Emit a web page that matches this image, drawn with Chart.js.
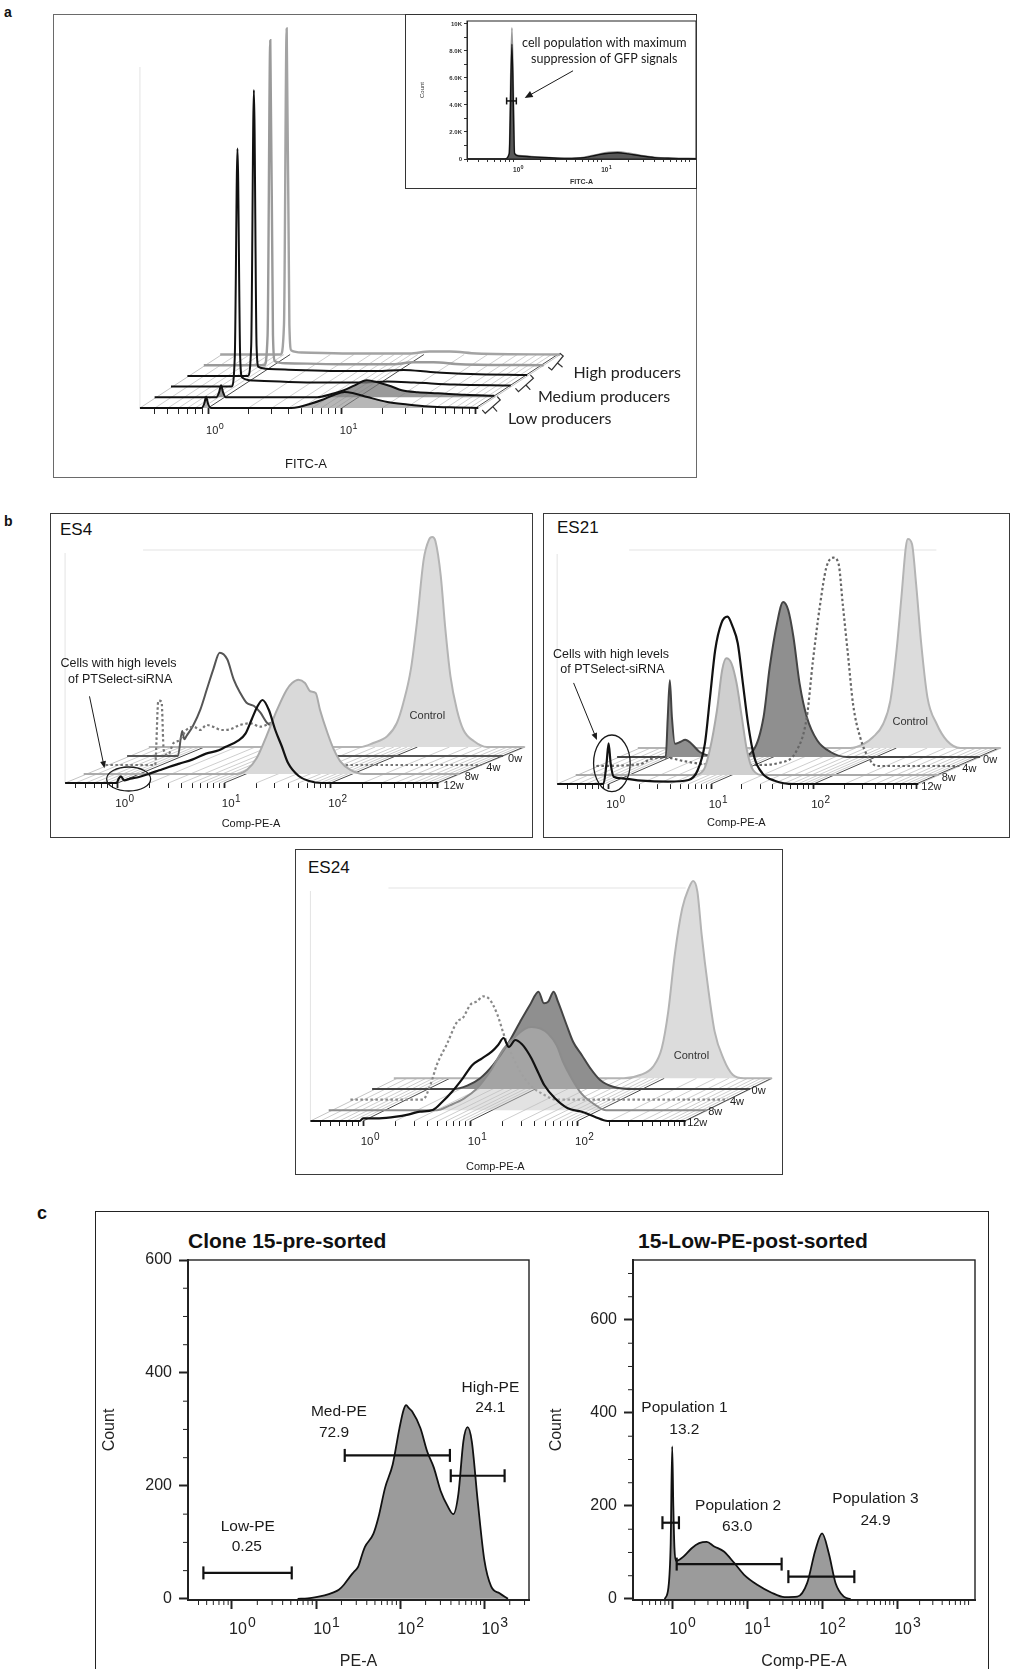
<!DOCTYPE html>
<html>
<head>
<meta charset="utf-8">
<title>Flow cytometry histograms</title>
<script src="https://cdn.jsdelivr.net/npm/chart.js@4.4.1/dist/chart.umd.min.js"></script>
<style>
  html, body { margin: 0; padding: 0; background: #fff; }
  body { position: relative; width: 1011px; height: 1669px; overflow: hidden;
         font-family: "Liberation Sans", Arial, sans-serif; color: #111; }
  .box { position: absolute; box-sizing: border-box; border: 1.3px solid #3a3a3a; }
  canvas { position: absolute; }
  .tag { position: absolute; line-height: 1; white-space: nowrap; }
</style>
</head>
<body>
<div class="tag" style="left:4px;top:5px;font-weight:bold;font-size:14px">a</div>
<div class="tag" style="left:4px;top:514px;font-weight:bold;font-size:14px">b</div>
<div class="tag" style="left:37px;top:1204px;font-weight:bold;font-size:18px">c</div>

<div class="box" style="left:53px;top:14px;width:644px;height:464px;border-color:#6a6a6a"></div>
<canvas id="waterA"></canvas>
<div class="box" style="left:405px;top:14px;width:292px;height:175px;background:#fff;border-color:#333"></div>
<canvas id="inset"></canvas>

<div class="box" style="left:50px;top:513px;width:483px;height:325px"></div>
<div class="box" style="left:543px;top:513px;width:467px;height:325px"></div>
<div class="box" style="left:295px;top:849px;width:488px;height:326px"></div>
<div class="tag" style="left:60px;top:521px;font-size:17px">ES4</div>
<div class="tag" style="left:557px;top:519px;font-size:17px">ES21</div>
<div class="tag" style="left:308px;top:859px;font-size:17px">ES24</div>
<canvas id="es4"></canvas>
<canvas id="es21"></canvas>
<canvas id="es24"></canvas>

<div class="box" style="left:95px;top:1211px;width:894px;height:480px;border-color:#222;border-width:1.5px"></div>
<div class="tag" style="left:188px;top:1230px;font-weight:bold;font-size:21px">Clone 15-pre-sorted</div>
<div class="tag" style="left:638px;top:1230px;font-weight:bold;font-size:21px">15-Low-PE-post-sorted</div>
<canvas id="preSorted"></canvas>
<canvas id="postSorted"></canvas>

<script>
// all x values are log10 of the fluorescence channel, y values are counts

// --- panel a: FITC-A waterfall, front (low producers) to back (high producers) ---
const aLowFront  = [[-0.51,0],[-0.05,0],[-0.03,4],[-0.015,11],[0,4],[0.02,0],[0.62,0],[0.68,1],[0.76,4],[0.85,8],[0.94,13],[1.02,16],[1.08,15],[1.19,11],[1.34,6],[1.49,3.5],[1.65,1.5],[1.85,0.5],[2.02,0]];
const aLowBack   = [[-0.51,0],[-0.05,0],[-0.03,5],[-0.015,12],[0,5],[0.02,0],[0.7,0],[0.8,3],[0.9,7],[0.98,12],[1.07,17],[1.15,15],[1.25,11],[1.33,7],[1.45,5],[1.6,4],[1.8,2.5],[2.02,1.5]];
const aMedFront  = [[-0.51,0],[-0.06,0],[-0.035,30],[-0.015,238],[0.005,30],[0.02,9],[0.1,6],[0.3,5],[0.6,4],[0.9,4],[1.1,5],[1.3,4],[1.6,2],[2.02,1]];
const aMedBack   = [[-0.51,0],[-0.06,0],[-0.035,30],[-0.015,286],[0.005,30],[0.02,9],[0.1,7],[0.3,6],[0.6,5],[0.9,5],[1.1,6],[1.3,4],[1.6,2],[2.02,1]];
const aHighFront = [[-0.51,0],[-0.06,0],[-0.035,30],[-0.015,325],[0.005,30],[0.02,4],[0.1,2],[0.5,1],[0.9,1],[1.05,3],[1.2,3],[1.4,1],[2.02,0]];
const aHighBack  = [[-0.51,0],[-0.06,0],[-0.035,30],[-0.015,326],[0.005,30],[0.02,4],[0.1,2],[0.5,1],[0.9,1],[1.05,3],[1.2,3],[1.4,1],[2.02,0]];
const aGroups = ['Low producers', 'Medium producers', 'High producers'];

// --- panel a inset ---
const insetGray  = [[-0.53,0],[-0.1,0],[-0.05,400],[-0.02,9700],[0.01,400],[0.06,250],[0.2,180],[0.4,100],[0.6,50],[0.8,120],[0.95,330],[1.08,480],[1.18,520],[1.3,430],[1.45,250],[1.6,120],[1.8,60],[2.07,30]];
const insetBlack = [[-0.53,0],[-0.1,0],[-0.05,400],[-0.02,8500],[0.01,400],[0.06,220],[0.2,160],[0.4,90],[0.6,40],[0.8,100],[0.95,300],[1.08,430],[1.18,460],[1.3,380],[1.45,220],[1.6,100],[1.8,50],[2.07,20]];
const insetGate  = [[-0.08,4300],[0.03,4300]];
const insetYLabels = ['0','2.0K','4.0K','6.0K','8.0K','10K'];

// --- panel b: Comp-PE-A waterfalls, weeks front to back then control ---
const weeks = ['12w', '8w', '4w', '0w'];
const es4W12 = [[-0.494,0],[-0.06,0],[-0.01,0],[0.01,4.4],[0.03,6.7],[0.06,2.7],[0.12,4.4],[0.2,6],[0.3,9.4],[0.39,12.7],[0.48,16],[0.58,19.4],[0.7,23.4],[0.83,29.4],[0.95,32.7],[1.01,36],[1.135,42.7],[1.2,49.4],[1.26,64],[1.31,76],[1.36,83],[1.42,73],[1.48,53],[1.54,37],[1.6,20],[1.7,7],[1.79,2.3],[1.92,0],[3.013,0]];
const es4W8  = [[-0.494,0],[0.93,0],[1.03,4.3],[1.12,16],[1.21,37.7],[1.31,64.3],[1.4,84.3],[1.45,91],[1.51,94.3],[1.57,91],[1.62,82.7],[1.67,81],[1.71,64.3],[1.78,41],[1.84,24.3],[1.9,12.7],[1.99,4.3],[2.12,0],[3.013,0]];
const es4W4  = [[-0.494,0],[-0.03,0],[0,64.3],[0.03,63.3],[0.05,15],[0.09,10],[0.14,21.7],[0.2,25],[0.26,35],[0.33,38.3],[0.39,35],[0.45,40],[0.51,38.3],[0.59,35],[0.67,35.7],[0.76,40],[0.86,41.7],[0.95,38.3],[1.04,41.7],[1.14,46.7],[1.26,51.7],[1.35,48.3],[1.42,41.7],[1.48,28.3],[1.54,15],[1.6,6.7],[1.7,0],[3.013,0]];
const es4W0  = [[-0.494,0],[-0.02,0],[0.02,25],[0.04,16.7],[0.06,20],[0.12,30],[0.19,46.7],[0.25,66.7],[0.31,86.7],[0.37,103.3],[0.44,96.7],[0.5,76.7],[0.56,63.3],[0.62,53.3],[0.69,50],[0.75,43.3],[0.81,33.3],[0.87,30],[0.97,26.7],[1.03,25],[1.09,20],[1.18,13.3],[1.28,6.7],[1.37,1.7],[1.46,0],[3.013,0]];
const es4Ctrl = [[-0.494,0],[1.48,0],[1.6,4],[1.73,10.7],[1.82,24],[1.88,44],[1.95,77.3],[2.01,127.3],[2.07,187.3],[2.12,207.3],[2.15,210],[2.18,205.7],[2.23,170.7],[2.27,120.7],[2.32,70.7],[2.38,37.3],[2.44,17.3],[2.54,5.7],[2.66,0],[3.013,0]];

const es21W12 = [[-0.502,0],[-0.05,0],[-0.02,20.7],[0,40.7],[0.02,20.7],[0.05,7.3],[0.13,5.7],[0.32,3.3],[0.58,2.3],[0.78,4],[0.87,14],[0.94,40.7],[0.99,87.3],[1.04,134],[1.1,160.7],[1.16,167.3],[1.21,157.3],[1.26,140.7],[1.31,100.7],[1.36,60.7],[1.42,27.3],[1.5,10.7],[1.62,3.3],[1.81,0],[3.022,0]];
const es21W8  = [[-0.502,0],[0.64,0],[0.74,5],[0.8,25],[0.87,65],[0.92,105],[0.96,116.7],[1.01,111.7],[1.06,91.7],[1.11,58.3],[1.16,25],[1.22,5],[1.32,0],[3.022,0]];
const es21W4  = [[-0.502,0],[-0.08,1.7],[0.02,6.7],[0.18,8.3],[0.34,5],[0.57,1.7],[1.05,1],[1.28,3.3],[1.44,15],[1.54,48.3],[1.6,105],[1.67,161.7],[1.73,198.3],[1.8,208.3],[1.85,201.7],[1.89,161.7],[1.94,111.7],[1.99,61.7],[2.06,28.3],[2.14,8.3],[2.22,0],[3.022,0]];
const es21W0  = [[-0.502,0],[-0.03,0],[-0.01,40],[0.01,76.7],[0.03,40],[0.06,13.3],[0.11,15],[0.16,17.3],[0.22,13.3],[0.3,5],[0.43,1],[0.69,0.7],[0.82,6.7],[0.92,40],[0.98,90],[1.05,133.3],[1.11,155],[1.16,146.7],[1.21,120],[1.27,73.3],[1.34,40],[1.44,16.7],[1.57,5],[1.73,0],[3.022,0]];
const es21Ctrl = [[-0.502,0],[1.56,0],[1.69,4],[1.78,10.7],[1.88,24],[1.95,47.3],[2.01,97.3],[2.06,154],[2.1,200.7],[2.12,209],[2.16,204],[2.2,164],[2.25,104],[2.31,50.7],[2.4,24],[2.5,7.3],[2.63,0],[3.022,0]];

const es24W12 = [[-0.491,0],[-0.03,0],[0,2.7],[0.15,2.7],[0.31,4.3],[0.43,6.7],[0.53,9.3],[0.65,11],[0.74,19.3],[0.83,29.3],[0.93,42.7],[1.02,56],[1.11,62.7],[1.2,69.3],[1.26,76],[1.31,83],[1.36,74],[1.42,81],[1.48,77],[1.53,70],[1.57,62.7],[1.63,49.3],[1.69,36],[1.79,22.7],[1.91,12.7],[2.04,9.3],[2.16,4.3],[2.28,0],[3.009,0]];
const es24W8  = [[-0.491,0],[0.51,0],[0.63,5],[0.76,11.7],[0.88,21.7],[1,38.3],[1.13,61.7],[1.25,75],[1.33,81.7],[1.39,83.3],[1.47,81.7],[1.54,76.7],[1.62,65],[1.68,48.3],[1.76,31.7],[1.85,16.7],[1.96,6.7],[2.08,0],[3.009,0]];
const es24W4  = [[-0.491,0],[0.18,0],[0.25,15],[0.31,35],[0.4,55],[0.5,78.3],[0.55,81.7],[0.62,95],[0.68,98.3],[0.74,103.3],[0.8,100],[0.87,85],[0.93,65],[0.99,48.3],[1.08,28.3],[1.17,15],[1.3,5],[1.42,0],[3.009,0]];
const es24W0  = [[-0.491,0],[0.26,0],[0.39,3.3],[0.51,10.7],[0.63,24],[0.76,44],[0.88,67.3],[0.97,84],[1.05,97.3],[1.1,85.7],[1.14,87.3],[1.19,97.3],[1.23,87.3],[1.31,64],[1.37,47.3],[1.45,34],[1.53,20.7],[1.62,9],[1.74,2.3],[1.93,0],[3.009,0]];
const es24Ctrl = [[-0.491,0],[1.64,0],[1.79,3.3],[1.91,11.7],[1.99,30],[2.05,66.7],[2.11,123.3],[2.18,170],[2.24,190],[2.28,197.3],[2.32,186.7],[2.36,143.3],[2.42,90],[2.48,46.7],[2.56,20],[2.65,3.3],[2.75,0],[3.009,0]];

// --- panel c: sorting histograms and gates [from, to, height] ---
const preSorted  = [[0.78,0],[0.9,1],[1,3],[1.1,6],[1.2,11],[1.27,16],[1.33,25],[1.4,39],[1.45,48],[1.5,57],[1.55,80],[1.58,92],[1.68,115],[1.74,144],[1.82,197],[1.91,238],[1.99,302],[2.04,335],[2.07,343],[2.1,338],[2.14,332],[2.24,302],[2.32,261],[2.4,232],[2.48,191],[2.56,165],[2.63,150],[2.69,185],[2.75,279],[2.8,304],[2.85,279],[2.92,174],[3,68],[3.08,22],[3.18,10],[3.28,0]];
const preGates   = [[-0.34,0.71,46],[1.34,2.59,254],[2.6,3.24,218]];
const preNames   = ['Low-PE', 'Med-PE', 'High-PE'];
const prePct     = ['0.25', '72.9', '24.1'];
const postSorted = [[-0.1,0],[-0.05,25],[-0.02,120],[0,328],[0.015,200],[0.03,110],[0.05,82],[0.1,85],[0.15,91],[0.26,109],[0.36,120],[0.46,123],[0.56,113],[0.69,102],[0.83,77],[0.96,52],[1.14,30],[1.32,14],[1.5,4],[1.67,5],[1.8,34],[1.91,105],[2,141],[2.09,98],[2.18,34],[2.29,5],[2.38,0]];
const postGates  = [[-0.13,0.09,164],[0.06,1.46,75],[1.55,2.43,48]];
const postNames  = ['Population 1', 'Population 2', 'Population 3'];
const postPct    = ['13.2', '63.0', '24.9'];
const countTicks = [0, 200, 400, 600];

const FONT = "'Liberation Sans', Arial, sans-serif";
const CAL = "Lato, 'Open Sans', sans-serif";
Chart.defaults.font.family = FONT;
Chart.defaults.color = '#222';

const pts = arr => arr.map(([l, c]) => ({ x: 10 ** l, y: c }));

function logTicks(lo, hi) {
  const out = [];
  for (let d = Math.floor(lo); d <= Math.ceil(hi); d++) {
    for (let m = 1; m <= 9; m++) {
      const l = d + Math.log10(m);
      if (l >= lo - 1e-9 && l <= hi + 1e-9) out.push({ value: m * 10 ** d, major: m === 1 });
    }
  }
  return out;
}
function place(canvas, b) {
  canvas.width = b[2]; canvas.height = b[3];
  canvas.style.left = b[0] + 'px'; canvas.style.top = b[1] + 'px';
}

// decade labels "10" with a raised exponent, placed on the x-axis ticks
const powersPlugin = {
  id: 'powers',
  afterDraw(chart, args, o) {
    if (!o.axis) return;
    const s = chart.scales[o.axis], ctx = chart.ctx;
    const y = chart.chartArea.bottom + o.dy;
    ctx.save();
    ctx.fillStyle = o.color || '#222';
    ctx.textBaseline = 'alphabetic';
    s.ticks.forEach(t => {
      const l = Math.log10(t.value), d = Math.round(l);
      if (Math.abs(l - d) > 1e-6 || !o.shown.includes(d)) return;
      const x = s.getPixelForValue(t.value) + o.dx;
      ctx.font = (o.weight || '') + ' ' + o.size + 'px ' + FONT;
      const w = ctx.measureText('10').width;
      ctx.textAlign = 'center';
      ctx.fillText('10', x, y);
      ctx.font = (o.weight || '') + ' ' + o.exp + 'px ' + FONT;
      ctx.textAlign = 'left';
      ctx.fillText(String(d), x + w / 2 + o.gap, y - o.raise);
    });
    ctx.restore();
  }
};

// slanted floor of the waterfall plots
const floorPlugin = {
  id: 'floor',
  beforeDatasetsDraw(chart, args, o) {
    if (!o.n) return;
    const ctx = chart.ctx, xs = chart.scales.x0, ys = chart.scales.y0;
    const yb = ys.getPixelForValue(0), sx = (o.n - 1) * o.dx, sy = (o.n - 1) * o.dy;
    const xl = xs.getPixelForValue(10 ** o.lo), xr = xs.getPixelForValue(10 ** o.hi);
    ctx.save();
    ctx.strokeStyle = '#e3e3e3'; ctx.lineWidth = 1;
    if (o.wall) {
      ctx.beginPath();
      ctx.moveTo(xl, yb); ctx.lineTo(xl, chart.chartArea.top + o.wall.v);
      if (o.wall.h != null) {
        ctx.moveTo(xl + o.wall.from, chart.chartArea.top + o.wall.h);
        ctx.lineTo(xr + o.wall.to, chart.chartArea.top + o.wall.h);
      }
      ctx.stroke();
    }
    const slant = (x, col, w) => {
      ctx.strokeStyle = col; ctx.lineWidth = w;
      ctx.beginPath(); ctx.moveTo(x, yb); ctx.lineTo(x + sx, yb - sy); ctx.stroke();
    };
    slant(xl, '#c4c4c4', 1);
    slant(xr, '#c4c4c4', 1);
    xs.ticks.forEach(t => slant(xs.getPixelForValue(t.value), t.major ? '#4a4a4a' : '#c8c8c8', t.major ? 1 : 0.9));
    ctx.restore();
  }
};

// texts, arrows, ellipses and brackets placed in data units
const notesPlugin = {
  id: 'notes',
  afterDatasetsDraw(chart, args, o) {
    if (!o.items) return;
    const ctx = chart.ctx;
    const pt = (p, k) => {
      const xs = chart.scales[k === undefined ? o.xKey : 'x' + k];
      const ys = chart.scales[k === undefined ? o.yKey : 'y' + k];
      return [xs.getPixelForValue(10 ** p[0]), ys.getPixelForValue(p[1])];
    };
    ctx.save();
    ctx.lineCap = 'round';
    o.items.forEach(it => {
      ctx.fillStyle = ctx.strokeStyle = it.color || '#1a1a1a';
      ctx.lineWidth = it.width || 1.2;
      if (it.kind === 'text') {
        const [x, y] = pt(it.at, it.layer);
        const n = it.nudge || [0, 0];
        ctx.font = it.font;
        ctx.textAlign = it.align || 'center';
        ctx.textBaseline = it.base || 'alphabetic';
        ctx.fillText(it.text, x + n[0], y + n[1]);
      } else if (it.kind === 'arrow') {
        const [x1, y1] = pt(it.from), [x2, y2] = pt(it.to);
        const a = Math.atan2(y2 - y1, x2 - x1), L = it.head || 7, W = L * 0.42;
        ctx.beginPath(); ctx.moveTo(x1, y1);
        ctx.lineTo(x2 - L * 0.8 * Math.cos(a), y2 - L * 0.8 * Math.sin(a)); ctx.stroke();
        ctx.beginPath(); ctx.moveTo(x2, y2);
        ctx.lineTo(x2 - L * Math.cos(a) + W * Math.sin(a), y2 - L * Math.sin(a) - W * Math.cos(a));
        ctx.lineTo(x2 - L * Math.cos(a) - W * Math.sin(a), y2 - L * Math.sin(a) + W * Math.cos(a));
        ctx.closePath(); ctx.fill();
      } else if (it.kind === 'ellipse') {
        const [x, y] = pt(it.at);
        ctx.beginPath(); ctx.ellipse(x, y, it.rx, it.ry, 0, 0, Math.PI * 2); ctx.stroke();
      } else if (it.kind === 'bracket') {
        const [x1, y1] = pt(it.from), [x2, y2] = pt(it.to);
        const len = Math.hypot(x2 - x1, y2 - y1), ux = (x2 - x1) / len, uy = (y2 - y1) / len;
        const nx = -uy, ny = ux, mx = (x1 + x2) / 2, my = (y1 + y2) / 2;
        ctx.beginPath();
        ctx.moveTo(x1 - nx * 4, y1 - ny * 4); ctx.lineTo(x1, y1); ctx.lineTo(x2, y2); ctx.lineTo(x2 - nx * 4, y2 - ny * 4);
        ctx.moveTo(mx, my); ctx.lineTo(mx + nx * 6, my + ny * 6);
        ctx.stroke();
      }
    });
    ctx.restore();
  }
};

// short minor tick marks and plot frame for the 2D histograms
const minorPlugin = {
  id: 'minor',
  afterDraw(chart, args, o) {
    if (!o.x) return;
    const ctx = chart.ctx, a = chart.chartArea, xs = chart.scales.x, ys = chart.scales.y;
    ctx.save();
    ctx.strokeStyle = '#222'; ctx.lineWidth = 1;
    ctx.beginPath();
    o.x.forEach(v => { const p = xs.getPixelForValue(v); ctx.moveTo(p, a.bottom); ctx.lineTo(p, a.bottom + o.len); });
    o.y.forEach(v => { const p = ys.getPixelForValue(v); ctx.moveTo(a.left - o.len, p); ctx.lineTo(a.left, p); });
    ctx.stroke();
    ctx.lineWidth = o.frame || 1.4;
    ctx.strokeRect(a.left, a.top, a.right - a.left, a.bottom - a.top);
    ctx.restore();
  }
};
Chart.register(floorPlugin, notesPlugin, minorPlugin, powersPlugin);

const quiet = { legend: { display: false }, tooltip: { enabled: false } };

// ---------- waterfall builder (one scale pair per depth layer) ----------
function waterfall(id, g) {
  const canvas = document.getElementById(id);
  place(canvas, g.box);
  const n = g.layers.length;
  const H = g.bottom - g.top;
  const shift = g.dx / g.ppd;
  const hiAll = g.hi + (n - 1) * shift;
  const right = g.left + (hiAll - g.lo) * g.ppd;
  const scales = {};
  g.layers.forEach((ly, k) => {
    scales['x' + k] = { type: 'logarithmic', position: 'bottom', display: k === 0,
                        min: 10 ** (g.lo - k * shift), max: 10 ** (hiAll - k * shift) };
    scales['y' + k] = { type: 'linear', display: false, min: -k * g.dy, max: H - k * g.dy };
  });
  Object.assign(scales.x0, {
    border: { display: false },
    grid: { drawOnChartArea: false, drawTicks: true, tickLength: g.tickLen, tickColor: '#222',
            tickWidth: c => (c.tick && c.tick.major ? 1.8 : 1) },
    ticks: { display: false, autoSkip: false, maxRotation: 0 },
    afterBuildTicks: s => { s.ticks = logTicks(g.lo, g.hi); },
    afterFit: s => { s.height = g.box[1] + g.box[3] - g.bottom; }
  });
  const datasets = g.layers.map((ly, k) => ({
    data: pts(ly.data), xAxisID: 'x' + k, yAxisID: 'y' + k,
    borderColor: ly.color, borderWidth: ly.width || 2, borderDash: ly.dash || [],
    backgroundColor: ly.fill || 'rgba(0,0,0,0)', fill: ly.fill ? 'origin' : false,
    pointRadius: 0, cubicInterpolationMode: 'monotone', clip: false
  }));
  const items = g.notes.slice();
  (g.depth || []).forEach((w, k) => items.push({ kind: 'text', text: w, layer: k, at: [g.hi, 0],
    nudge: g.depthNudge, align: 'left', font: '11px ' + FONT, color: '#222' }));
  new Chart(canvas, {
    type: 'line',
    data: { datasets },
    options: {
      responsive: false, animation: false, events: [],
      layout: { autoPadding: false,
                padding: { left: g.left - g.box[0], top: g.top - g.box[1], right: g.box[0] + g.box[2] - right, bottom: 0 } },
      scales,
      plugins: Object.assign({}, quiet, {
        floor: { n, dx: g.dx, dy: g.dy, lo: g.lo, hi: g.hi, wall: g.wall },
        notes: { xKey: 'x0', yKey: 'y0', items },
        powers: Object.assign({ axis: 'x0', shown: g.labelled }, g.powers)
      })
    }
  });
}

// ---------- panel a ----------
const blk = '#111', gry = '#9a9a9a';
waterfall('waterA', {
  box: [54, 16, 642, 460], left: 138.2, top: 20, bottom: 408,
  lo: -0.51, hi: 2.02, ppd: 134.3, dx: 16.4, dy: 10.7,
  tickLen: 6, labelled: [0, 1],
  powers: { dx: 4, dy: 26, size: 11, exp: 9, raise: 5, gap: 0.5 },
  wall: { v: 47, h: null },
  layers: [
    { data: aLowFront, color: blk, fill: 'rgba(135,135,135,0.6)' },
    { data: aLowBack, color: blk, fill: 'rgba(120,120,120,0.75)' },
    { data: aMedFront, color: blk },
    { data: aMedBack, color: blk },
    { data: aHighFront, color: gry, width: 2.4 },
    { data: aHighBack, color: '#a3a3a3', width: 2.4 }
  ],
  notes: [
    { kind: 'text', text: 'FITC-A', at: [0.732, -60.3], font: '13px ' + FONT },
    { kind: 'text', text: aGroups[2], at: [3.133, 29.7], font: '16px ' + CAL, color: '#222' },
    { kind: 'text', text: aGroups[1], at: [2.96, 6.3], font: '16px ' + CAL, color: '#222' },
    { kind: 'text', text: aGroups[0], at: [2.629, -16.3], font: '16px ' + CAL, color: '#222' },
    { kind: 'bracket', from: [2.569, 38], to: [2.655, 52], color: '#333' },
    { kind: 'bracket', from: [2.32, 16.3], to: [2.432, 29.7], color: '#333' },
    { kind: 'bracket', from: [2.072, -5.3], to: [2.184, 8], color: '#333' }
  ]
});

// ---------- panel a inset ----------
(function () {
  const canvas = document.getElementById('inset');
  place(canvas, [406, 15, 290, 173]);
  const lo = -0.53, hi = 2.07;
  new Chart(canvas, {
    type: 'line',
    data: { datasets: [
      { data: pts(insetGate), borderColor: '#111', borderWidth: 1.5, pointStyle: 'line', pointRotation: 90,
        pointRadius: 3.5, pointBorderWidth: 1.5, pointBorderColor: '#111', fill: false, clip: false },
      { data: pts(insetBlack), borderColor: '#111', borderWidth: 1.4, backgroundColor: '#585858', fill: 'origin',
        pointRadius: 0, cubicInterpolationMode: 'monotone' },
      { data: pts(insetGray), borderColor: '#9a9a9a', borderWidth: 1.8, fill: false,
        pointRadius: 0, cubicInterpolationMode: 'monotone' }
    ] },
    options: {
      responsive: false, animation: false, events: [],
      layout: { autoPadding: false, padding: { left: 0, top: 6, right: 0, bottom: 0 } },
      scales: {
        x: { type: 'logarithmic', min: 10 ** lo, max: 10 ** hi,
             afterBuildTicks: s => { s.ticks = logTicks(lo, hi); },
             ticks: { display: false, autoSkip: false, maxRotation: 0 },
             grid: { drawOnChartArea: false, tickLength: 3, tickColor: '#333' },
             border: { color: '#333' },
             title: { display: true, text: 'FITC-A', color: '#333', font: { size: 7, weight: 'bold' },
                      padding: { top: 0, bottom: 1.8 } },
             afterFit: s => { s.height = 29; } },
        y: { min: 0, max: 10220,
             afterBuildTicks: s => { s.ticks = Array.from({ length: 11 }, (_, i) => ({ value: i * 1000 })); },
             ticks: { autoSkip: false, padding: 2, color: '#333', font: { size: 6, weight: 'bold' },
                      callback: v => (v % 2000 === 0 ? insetYLabels[v / 2000] : '') },
             grid: { drawOnChartArea: false, tickLength: 3, tickColor: '#333' },
             border: { color: '#333' },
             title: { display: true, text: 'Count', color: '#333', font: { size: 6 }, padding: { top: 12.4, bottom: 0 } },
             afterFit: s => { s.width = 61; } }
      },
      plugins: Object.assign({}, quiet, {
        minor: { x: [], y: [], len: 0, frame: 1 },
        powers: { axis: 'x', shown: [0, 1], dx: 3, dy: 13, size: 6.5, exp: 5.5, raise: 3, gap: 0.3, weight: 'bold', color: '#333' },
        notes: { xKey: 'x', yKey: 'y', items: [
          { kind: 'text', text: 'cell population with maximum', at: [1.028, 8274], font: '12.5px ' + CAL },
          { kind: 'text', text: 'suppression of GFP signals', at: [1.028, 7089], font: '12.5px ' + CAL },
          { kind: 'arrow', from: [0.67, 6520], to: [0.125, 4520], width: 1, head: 8 }
        ] }
      })
    }
  });
})();

// ---------- panel b ----------
const ctrlStyle = { color: '#b4b4b4', fill: '#dcdcdc', width: 2 };
const esPowers = { dx: 4, dy: 24, size: 11.5, exp: 10, raise: 5.5, gap: 0.5 };
const cellsNote = (a, b, arrowFrom, arrowTo, ell, rx, ry) => [
  { kind: 'text', text: 'Cells with high levels', at: a, font: '12.5px ' + FONT },
  { kind: 'text', text: 'of PTSelect-siRNA', at: b, font: '12.5px ' + FONT },
  { kind: 'arrow', from: arrowFrom, to: arrowTo, width: 1, head: 7 },
  { kind: 'ellipse', at: ell, rx, ry, width: 1.3 }
];
waterfall('es4', {
  box: [51, 514, 481, 323], left: 62, top: 530, bottom: 783,
  lo: -0.494, hi: 3.013, ppd: 107.2, dx: 21.7, dy: 9,
  tickLen: 5, labelled: [0, 1, 2], powers: esPowers,
  wall: { v: 23, h: 20, from: 78, to: -5 },
  depth: weeks, depthNudge: [5, 6],
  layers: [
    { data: es4W12, color: '#111', width: 2.2 },
    { data: es4W8, color: '#aaaaaa', fill: '#d9d9d9' },
    { data: es4W4, color: '#777', dash: [2.5, 2.5], width: 2.2 },
    { data: es4W0, color: '#555' },
    Object.assign({ data: es4Ctrl }, ctrlStyle)
  ],
  notes: cellsNote([0.007, 115.7], [0.023, 100.3], [-0.264, 86.3], [-0.124, 14.7], [0.103, 4], 22, 12).concat([
    { kind: 'text', text: 'Control', at: [2.908, 64.3], font: '11px ' + FONT, color: '#333' },
    { kind: 'text', text: 'Comp-PE-A', at: [1.252, -43.7], font: '11px ' + FONT }
  ])
});
waterfall('es21', {
  box: [544, 514, 465, 323], left: 555, top: 531, bottom: 784,
  lo: -0.502, hi: 3.022, ppd: 103, dx: 20.7, dy: 9,
  tickLen: 5, labelled: [0, 1, 2], powers: esPowers,
  wall: { v: 23, h: 19, from: 72, to: 18 },
  depth: weeks, depthNudge: [3, 6],
  layers: [
    { data: es21W12, color: '#111', width: 2.2 },
    { data: es21W8, color: '#aaaaaa', fill: '#cfcfcf' },
    { data: es21W4, color: '#666', dash: [2.5, 2.5], width: 2.2 },
    { data: es21W0, color: '#444', fill: '#8f8f8f' },
    Object.assign({ data: es21Ctrl }, ctrlStyle)
  ],
  notes: cellsNote([0.024, 125.7], [0.037, 110.7], [-0.34, 100.7], [-0.114, 44], [0.032, 20.7], 18.3, 28.3).concat([
    { kind: 'text', text: 'Control', at: [2.942, 59], font: '11px ' + FONT, color: '#333' },
    { kind: 'text', text: 'Comp-PE-A', at: [1.246, -42], font: '11px ' + FONT }
  ])
});
waterfall('es24', {
  box: [296, 850, 486, 324], left: 307, top: 868, bottom: 1121,
  lo: -0.491, hi: 3.009, ppd: 108, dx: 21.7, dy: 10.67,
  tickLen: 5, labelled: [0, 1, 2], powers: esPowers,
  wall: { v: 23, h: 20, from: 78, to: 0 },
  depth: weeks, depthNudge: [1.5, 5],
  layers: [
    { data: es24W12, color: '#111', width: 2.2 },
    { data: es24W8, color: '#8c8c8c', fill: 'rgba(190,190,190,0.45)' },
    { data: es24W4, color: '#888', dash: [2.5, 2.5], width: 2.2 },
    { data: es24W0, color: '#444', fill: '#8f8f8f' },
    Object.assign({ data: es24Ctrl }, ctrlStyle)
  ],
  notes: [
    { kind: 'text', text: 'Control', at: [3.063, 62], font: '11px ' + FONT, color: '#333' },
    { kind: 'text', text: 'Comp-PE-A', at: [1.234, -49], font: '11px ' + FONT }
  ]
});

// ---------- panel c ----------
function histogram(id, g) {
  const canvas = document.getElementById(id);
  place(canvas, g.box);
  const gates = g.gates.map(([a, b, v]) => ({
    data: pts([[a, v], [b, v]]), borderColor: '#111', borderWidth: 2.2,
    pointStyle: 'line', pointRotation: 90, pointRadius: 6.5, pointBorderWidth: 2.2,
    pointBorderColor: '#111', fill: false, clip: false
  }));
  const hist = { data: pts(g.data), borderColor: '#111', borderWidth: 1.8, backgroundColor: '#9b9b9b',
                 fill: 'origin', pointRadius: 0, cubicInterpolationMode: 'monotone' };
  const majors = logTicks(g.lo, g.hi).filter(t => t.major && t.value < 9999);
  const minorsX = logTicks(g.lo, g.hi).filter(t => !t.major && t.value < 9999).map(t => t.value);
  const minorsY = [];
  for (let v = 50; v < g.ymax; v += 50) if (v % 200 !== 0) minorsY.push(v);
  const items = [];
  g.names.forEach((nm, i) => {
    items.push({ kind: 'text', text: nm, at: g.textAt[i][0], base: 'middle', font: '15.5px ' + FONT });
    items.push({ kind: 'text', text: g.pct[i], at: g.textAt[i][1], base: 'middle', font: '15.5px ' + FONT });
  });
  new Chart(canvas, {
    type: 'line',
    data: { datasets: gates.concat([hist]) },
    options: {
      responsive: false, animation: false, events: [],
      layout: { autoPadding: false, padding: { left: 0, top: g.padTop, right: g.padRight, bottom: 0 } },
      scales: {
        x: { type: 'logarithmic', min: 10 ** g.lo, max: 10 ** g.hi,
             afterBuildTicks: s => { s.ticks = majors.map(t => ({ value: t.value, major: true })); },
             ticks: { display: false, autoSkip: false, maxRotation: 0 },
             grid: { drawOnChartArea: false, tickLength: 9, tickWidth: 2, tickColor: '#222' },
             border: { color: '#222', width: 2 },
             title: { display: true, text: g.xTitle, font: { size: 16 }, padding: { top: 0, bottom: 10.4 } },
             afterFit: s => { s.height = 82; } },
        y: { min: g.ymin, max: g.ymax,
             afterBuildTicks: s => { s.ticks = countTicks.map(v => ({ value: v })); },
             ticks: { autoSkip: false, padding: 7, font: { size: 16 } },
             grid: { drawOnChartArea: false, tickLength: 9, tickWidth: 2, tickColor: '#222' },
             border: { color: '#222', width: 2 },
             title: { display: true, text: 'Count', font: { size: 16 }, padding: { top: g.countPad, bottom: 0 } },
             afterFit: s => { s.width = 92; } }
      },
      plugins: Object.assign({}, quiet, {
        minor: { x: minorsX, y: minorsY, len: 5, frame: 1.4 },
        powers: { axis: 'x', shown: [0, 1, 2, 3], dx: 6, dy: 34, size: 16, exp: 14, raise: 7.3, gap: 1 },
        notes: { xKey: 'x', yKey: 'y', items }
      })
    }
  });
}
histogram('preSorted', {
  box: [96, 1212, 440, 470], padTop: 48, padRight: 7, countPad: 4.4,
  lo: -0.482, hi: 3.53, ymin: -2, ymax: 600, xTitle: 'PE-A',
  data: preSorted, gates: preGates, names: preNames, pct: prePct,
  textAt: [[[0.188, 127], [0.176, 92]], [[1.271, 331], [1.212, 294]], [[3.071, 373], [3.071, 338]]]
});
histogram('postSorted', {
  box: [541, 1212, 440, 470], padTop: 48, padRight: 6, countPad: 6.4,
  lo: -0.5, hi: 4.04, ymin: -2.2, ymax: 729, xTitle: 'Comp-PE-A',
  data: postSorted, gates: postGates, names: postNames, pct: postPct,
  textAt: [[[0.163, 411], [0.163, 363]], [[0.88, 200], [0.867, 155]], [[2.712, 215], [2.712, 168]]]
});
</script>
</body>
</html>
